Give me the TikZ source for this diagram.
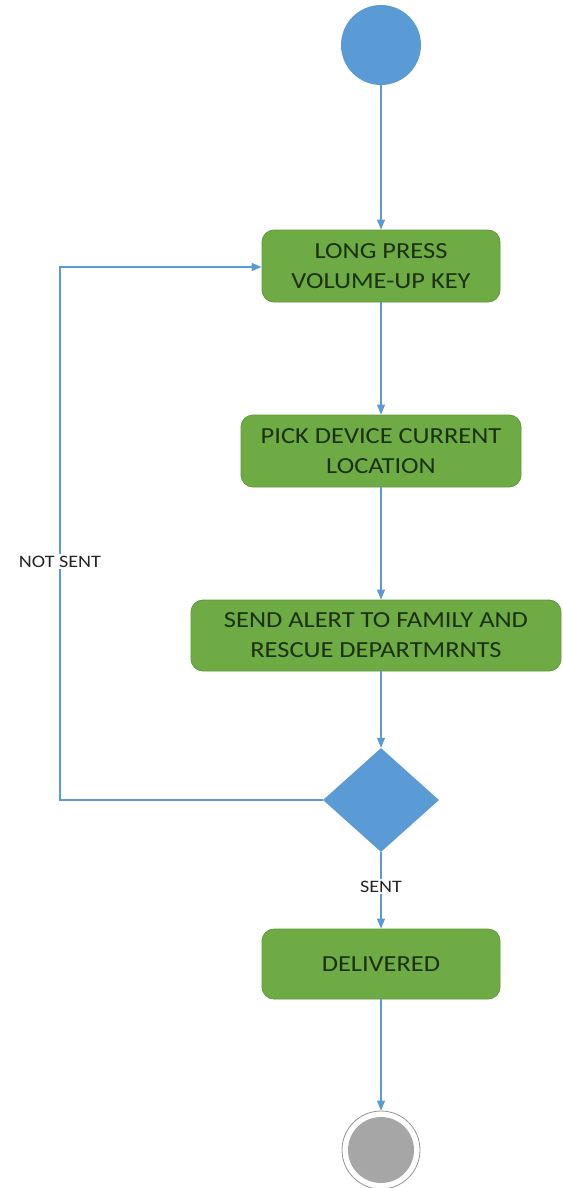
\documentclass[tikz,border=0pt]{standalone}
\usepackage{fontspec}
\setmainfont{Carlito}[FakeStretch=1.15]
\usetikzlibrary{shapes.geometric,arrows.meta}
\definecolor{flowblue}{HTML}{5B9BD5}
\definecolor{boxgreen}{HTML}{6EAB44}
\definecolor{boxedge}{HTML}{5E9A38}
\definecolor{boxtext}{HTML}{1A300E}
\definecolor{endgray}{HTML}{A6A6A6}
\begin{document}
\begin{tikzpicture}[x=1pt,y=-1pt,
  flow/.style={draw=flowblue,line width=1.1pt,-{Triangle[length=10pt,width=8pt]}},
  actbox/.style={draw=boxedge,line width=0.8pt,fill=boxgreen,rounded corners=12pt,
    text=boxtext,align=center,inner sep=0pt,font=\fontsize{23}{30}\selectfont},
  lbl/.style={fill=white,inner sep=1.5pt,text=black!85,font=\fontsize{17.5}{20}\selectfont}]
\useasboundingbox (0,0) rectangle (562,1188);

% start state
\node[circle,fill=flowblue,minimum size=80pt,inner sep=0pt] (start) at (381,45) {};

% activities
\node[actbox,minimum width=238pt,minimum height=72pt] (press) at (381,266) {LONG PRESS\\VOLUME-UP KEY};
\node[actbox,minimum width=280pt,minimum height=72pt] (pick) at (381,451) {PICK DEVICE CURRENT\\LOCATION};
\node[actbox,minimum width=370pt,minimum height=71pt] (send) at (376,635.5) {SEND ALERT TO FAMILY AND\\RESCUE DEPARTMRNTS};

% decision
\node[diamond,fill=flowblue,inner sep=0pt,minimum width=116pt,minimum height=104pt] (check) at (381,800) {};

\node[actbox,minimum width=238pt,minimum height=70pt] (done) at (381,964) {DELIVERED};

% final state
\node[circle,draw=endgray!90!black,line width=0.8pt,minimum size=78pt,inner sep=0pt] (stop) at (381,1150) {};
\node[circle,fill=endgray,minimum size=66pt,inner sep=0pt] (stopcore) at (stop.center) {};

% transitions
\draw[flow] (start.south) -- (press.north);
\draw[flow] (press.south) -- (pick.north);
\draw[flow] (pick.south) -- (pick.south |- send.north);
\draw[flow] (pick.south |- send.south) -- (check.north);
\draw[flow] (check.south) -- node[lbl,pos=0.45] (sentlbl) {SENT} (done.north);
\draw[flow] (done.south) -- (stop.north);
\coordinate (loopbot) at (60,800);
\coordinate (looptop) at (60,267);
\draw[flow] (check.west) -- (loopbot) -- node[lbl,pos=0.5,yshift=-28pt] (notsentlbl) {NOT SENT} (looptop) -- (press.west |- looptop);
\end{tikzpicture}
\end{document}
